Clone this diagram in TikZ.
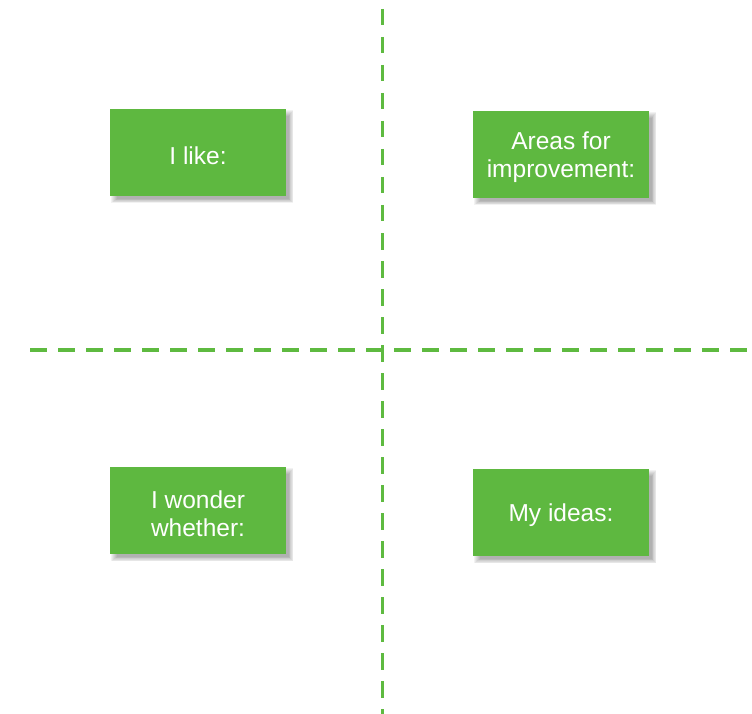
\documentclass[tikz,border=0pt]{standalone}
\usepackage{fontspec}
\setmainfont{Liberation Sans}
\definecolor{leafgreen}{RGB}{94,184,64}
\definecolor{linegreen}{RGB}{94,186,64}
\tikzset{
  cardbox/.style={fill=leafgreen, minimum width=176pt, minimum height=87pt,
    inner sep=0pt},
  cardtext/.style={text=white, align=center, inner sep=0pt,
    font=\fontsize{24.5}{28}\selectfont},
  divider/.style={draw=linegreen, line width=3.6pt, dash pattern=on 16.5pt off 11.5pt},
  cardshadow/.style={fill=black, opacity=0.05}
}
% soft drop shadow: stacked translucent rectangles, offset down-right
\newcommand{\softshadow}[1]{%
  \foreach \d in {0,1,2,3,4,5,6}{
    \fill[cardshadow]
      ([xshift=1pt+\d pt, yshift=-1pt-\d pt]#1.north west)
      rectangle ([xshift=7pt-0.7*\d pt, yshift=-7pt+0.7*\d pt]#1.south east);
  }%
}
\begin{document}
\begin{tikzpicture}[x=1pt, y=-1pt]
  \useasboundingbox (0,0) rectangle (752,714);
  % quadrant dividers
  \draw[divider] (382.5,9) -- (382.5,714);
  \draw[divider] (30,350) -- (752,350);
  % card boxes and their shadows
  \path (198,152.5) coordinate (pl)
        (561,154.5) coordinate (pa)
        (198,510.5) coordinate (pw)
        (561,512.5) coordinate (pm);
  \path node[cardbox, opacity=0] (likeS) at (pl) {}
        node[cardbox, opacity=0] (areaS) at (pa) {}
        node[cardbox, opacity=0] (wondS) at (pw) {}
        node[cardbox, opacity=0] (ideaS) at (pm) {};
  \softshadow{likeS}
  \softshadow{areaS}
  \softshadow{wondS}
  \softshadow{ideaS}
  \node[cardbox] (like) at (pl) {};
  \node[cardbox] (areas) at (pa) {};
  \node[cardbox] (wonder) at (pw) {};
  \node[cardbox] (ideas) at (pm) {};
  % card labels
  \node[cardtext] (likeT) at ([yshift=-3pt]like.center) {I like:};
  \node[cardtext] (areasT) at ([yshift=-3pt]areas.center) {Areas for\\improvement:};
  \node[cardtext] (wonderT) at ([yshift=-3pt]wonder.center) {I wonder\\whether:};
  \node[cardtext] (ideasT) at ([yshift=-3pt]ideas.center) {My ideas:};
\end{tikzpicture}
\end{document}
